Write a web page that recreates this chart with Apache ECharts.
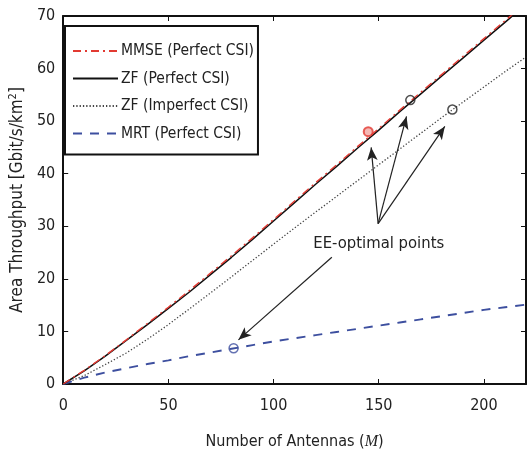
<!DOCTYPE html>
<html>
<head>
<meta charset="utf-8">
<script src="https://cdn.jsdelivr.net/npm/echarts@6/dist/echarts.min.js"></script>
<style>html,body{margin:0;padding:0;background:#fff;}#c{width:529px;height:455px;}</style>
</head>
<body>
<div id="c"></div>
<script>
const antennas = [0,10,20,30,40,50,60,70,80,90,100,110,120,130,140,150,160,170,180,190,200,210,220];
const mmsePerfect = [0,2.6,5.4,8.4,11.5,14.6,17.8,21.1,24.4,27.8,31.3,34.8,38.3,41.7,45.2,48.6,52.1,55.5,58.9,62.3,65.7,69.1,72.5];
const zfPerfect   = [0,2.5,5.3,8.3,11.3,14.4,17.5,20.8,24.1,27.5,31.0,34.5,38.0,41.4,44.9,48.3,51.8,55.2,58.6,62.0,65.4,68.8,72.2];
const zfImperfect = [0,1.6,3.7,5.9,8.5,11.3,14.3,17.3,20.4,23.5,26.6,29.7,32.7,35.7,38.7,41.7,44.7,47.7,50.7,53.6,56.5,59.4,62.2];
const mrtPerfect  = [0,1.2,2.2,3.0,3.8,4.5,5.3,6.0,6.7,7.4,8.1,8.7,9.3,9.9,10.5,11.1,11.7,12.3,12.9,13.5,14.1,14.6,15.1];
const seriesNames = ['MMSE (Perfect CSI)','ZF (Perfect CSI)','ZF (Imperfect CSI)','MRT (Perfect CSI)'];
// EE-optimal points [M, throughput]
const eeMMSE = [145, 48.0];
const eeZF = [165, 54.0];
const eeZFImp = [185, 52.2];
const eeMRT = [81, 6.8];
// annotation arrows [from, to] in data units
const arrowsFrom = [[149.7,30.5],[149.7,30.5],[149.7,30.5],[127.7,24.1]];
const arrowsTo = [[146.4,45.0],[163.2,50.9],[181.4,49.0],[83.3,8.4]];
const annotText = 'EE-optimal points';
const annotPos = [150, 26.6];
const xTicks = [0,50,100,150,200];
const yTicks = [0,10,20,30,40,50,60,70];

const FONT = "'Liberation Sans Narrow','Arial Narrow','DejaVu Sans Condensed',sans-serif";
const pairs = arr => antennas.map((x,i)=>[x,arr[i]]);

const chart = echarts.init(document.getElementById('c'), null, {renderer:'canvas'});
const axisCommon = {
  axisLine:{show:true,onZero:false,lineStyle:{color:'#111',width:2}},
  axisTick:{show:true,inside:true,length:5,lineStyle:{color:'#111',width:1}},
  splitLine:{show:false}
};
chart.setOption({
  animation:false,
  backgroundColor:'#fff',
  grid:{left:59,right:1,top:16,bottom:68},
  legend:{
    orient:'vertical', left:65, top:26,
    data:seriesNames,
    itemWidth:45, itemHeight:16, itemGap:11.5,
    padding:[17,4,13,7],
    backgroundColor:'#fff', borderColor:'#111', borderWidth:2, borderRadius:0,
    textStyle:{fontFamily:FONT,fontSize:15.5,color:'#222',padding:[0,0,0,-2]},
    itemStyle:{opacity:0}
  },
  xAxis:[
    Object.assign({type:'value',min:0,max:220,interval:50,position:'bottom',
      name:'Number of Antennas ({it|M})',nameLocation:'middle',nameGap:50,
      nameTextStyle:{fontFamily:FONT,fontSize:16,color:'#222',
        rich:{it:{fontFamily:"'Liberation Serif',serif",fontStyle:'italic',fontSize:16,color:'#222'}}},
      axisLabel:{fontFamily:FONT,fontSize:16,color:'#222',margin:14,
        formatter:v=>xTicks.includes(v)?String(v):''}},axisCommon),
    Object.assign({type:'value',min:0,max:220,interval:50,position:'top',axisLabel:{show:false}},axisCommon)
  ],
  yAxis:[
    Object.assign({type:'value',min:0,max:70,interval:10,position:'left',
      name:'Area Throughput [Gbit/s/km{sup|2}]',nameLocation:'middle',nameGap:27,nameRotate:90,
      nameTextStyle:{fontFamily:FONT,fontSize:17,color:'#222',
        rich:{sup:{fontFamily:FONT,fontSize:11,color:'#222',verticalAlign:'top',padding:[0,0,8,0]}}},
      axisLabel:{fontFamily:FONT,fontSize:16,color:'#222',margin:8,
        formatter:v=>yTicks.includes(v)?String(v):''}},axisCommon),
    Object.assign({type:'value',min:0,max:70,interval:10,position:'right',axisLabel:{show:false}},axisCommon)
  ],
  series:[
    {name:seriesNames[2],type:'line',data:pairs(zfImperfect),showSymbol:false,symbol:'none',
      lineStyle:{color:'#444',width:1.3,type:[1.3,2]},z:2},
    {name:seriesNames[3],type:'line',data:pairs(mrtPerfect),showSymbol:false,symbol:'none',
      lineStyle:{color:'#3d4f9f',width:1.9,type:[9,8]},z:2},
    {name:seriesNames[1],type:'line',data:pairs(zfPerfect),showSymbol:false,symbol:'none',
      lineStyle:{color:'#111',width:1.5,type:'solid'},z:3},
    {name:seriesNames[0],type:'line',data:pairs(mmsePerfect),showSymbol:false,symbol:'none',
      lineStyle:{color:'#e23a32',width:1.4,type:[8,4,2,4]},z:4},
    {type:'scatter',data:[eeZF,eeZFImp],symbol:'circle',symbolSize:9,
      itemStyle:{color:'rgba(255,255,255,0)',borderColor:'#222',borderWidth:1.5},z:6,
      markLine:{silent:true,symbol:['none','arrow'],symbolSize:[8,13],
        lineStyle:{color:'#222',width:1.2,type:'solid'},label:{show:false},
        data:arrowsFrom.map((f,i)=>[{coord:f},{coord:arrowsTo[i]}])},
      markPoint:{symbol:'circle',symbolSize:1,itemStyle:{color:'rgba(0,0,0,0)'},
        label:{show:true,position:'inside',formatter:annotText,fontFamily:FONT,fontSize:16.5,color:'#222'},
        data:[{coord:annotPos}]}},
    {type:'scatter',data:[eeMMSE],symbol:'circle',symbolSize:9,
      itemStyle:{color:'rgba(230,80,70,0.5)',borderColor:'#e23a32',borderWidth:2},z:6},
    {type:'scatter',data:[eeMRT],symbol:'circle',symbolSize:9,
      itemStyle:{color:'rgba(255,255,255,0)',borderColor:'#3d4f9f',borderWidth:1.5},z:6}
  ]
});
</script>
</body>
</html>
